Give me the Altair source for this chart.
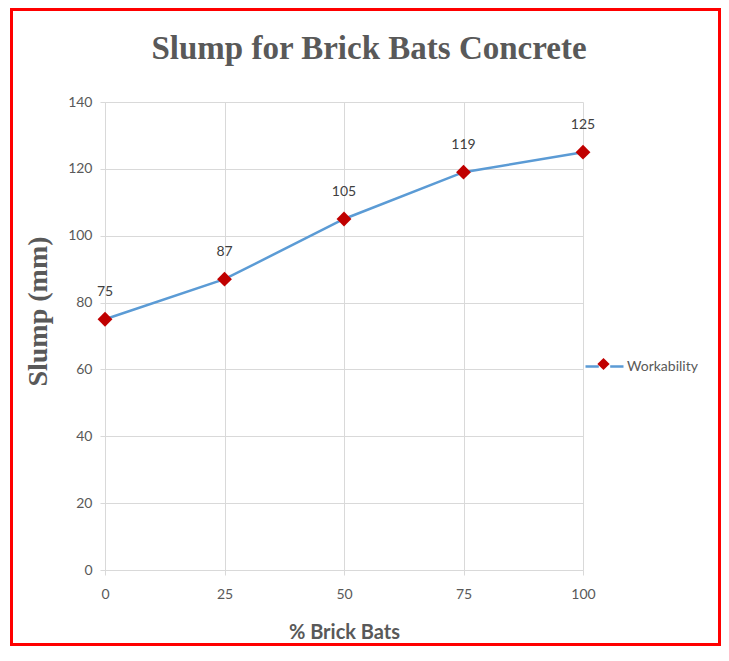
import altair as alt
import pandas as pd

pct_brick_bats = [0, 25, 50, 75, 100]
slump_mm = [75, 87, 105, 119, 125]
series_name = "Workability"
x_ticks = [0, 25, 50, 75, 100]
y_ticks = [0, 20, 40, 60, 80, 100, 120, 140]

df = pd.DataFrame({
    "pct": pct_brick_bats,
    "slump": slump_mm,
    "series": [series_name] * len(pct_brick_bats),
    "pt": [" "] * len(pct_brick_bats),
})

LABEL_FONT = "Lato"
GRAY = "#595959"
GRID = "#d9d9d9"

x_enc = alt.X(
    "pct:Q",
    scale=alt.Scale(domain=[0, 100], nice=False),
    axis=alt.Axis(
        values=x_ticks, title="% Brick Bats", titleFont=LABEL_FONT, titleFontSize=20,
        titleFontWeight="bold", titleColor=GRAY, titleY=52, titleBaseline="top",
        labelFont=LABEL_FONT, labelFontSize=14, labelColor=GRAY, labelPadding=12,
        labelFlush=False,
        grid=True, gridColor=GRID, domainColor=GRID, tickColor=GRID, tickSize=5,
    ),
)
y_enc = alt.Y(
    "slump:Q",
    scale=alt.Scale(domain=[0, 140], nice=False),
    axis=alt.Axis(
        values=y_ticks, title="Slump (mm)", titleFont="Liberation Serif", titleFontSize=28,
        titleFontWeight="bold", titleColor=GRAY, titleX=-53, titleY=209, titleAngle=-90,
        titleBaseline="bottom",
        labelFont=LABEL_FONT, labelFontSize=14, labelColor=GRAY, labelPadding=8,
        labelFlush=False,
        grid=True, gridColor=GRID, domainColor=GRID, tickColor=GRID, tickSize=5,
    ),
)

base = alt.Chart(df)

line = base.mark_line(strokeWidth=2.5).encode(
    x=x_enc,
    y=y_enc,
    stroke=alt.Stroke(
        "series:N",
        scale=alt.Scale(domain=[series_name], range=["#5B9BD5"]),
        legend=alt.Legend(
            orient="none", legendX=479, legendY=244, title=None,
            symbolType="M-1,0H-0.3M0.3,0H1", symbolSize=1444, symbolStrokeWidth=2.5,
            labelFont=LABEL_FONT, labelFontSize=14, labelColor=GRAY, labelOffset=2,
            padding=0,
        ),
    ),
)

points = base.mark_point(shape="diamond", filled=True, size=220, opacity=1).encode(
    x="pct:Q",
    y="slump:Q",
    fill=alt.Fill(
        "pt:N",
        scale=alt.Scale(domain=[" "], range=["#C00000"]),
        legend=alt.Legend(
            orient="none", legendX=492.0, legendY=255.5, title=None,
            symbolType="diamond", symbolSize=150, symbolStrokeWidth=0,
            labelExpr="''", labelFontSize=1, padding=0, symbolOpacity=1,
        ),
    ),
)

labels = base.mark_text(
    font=LABEL_FONT, fontSize=14, color="#404040", dy=-27, baseline="middle"
).encode(x="pct:Q", y="slump:Q", text="slump:Q")

border = alt.Chart(pd.DataFrame({"b": [0]})).mark_rect(
    stroke="#FF0000", strokeWidth=3, fillOpacity=0
).encode(
    x=alt.value(-93.5), x2=alt.value(614.5), y=alt.value(-92.5), y2=alt.value(542.5)
)

chart = alt.layer(line, points, labels, border).properties(
    width=478,
    height=468,
    padding={"left": 97, "top": 94, "right": 138, "bottom": 78},
    autosize=alt.AutoSizeParams(type="none"),
    background="white",
    title=alt.TitleParams(
        text="Slump for Brick Bats Concrete", font="Liberation Serif", fontSize=33,
        fontWeight="bold", color=GRAY, anchor="middle", dx=25, offset=0, dy=58,
        frame="group",
    ),
).configure_view(stroke=None)

chart.save("out.html", embed_options={"renderer": "svg", "actions": False})
